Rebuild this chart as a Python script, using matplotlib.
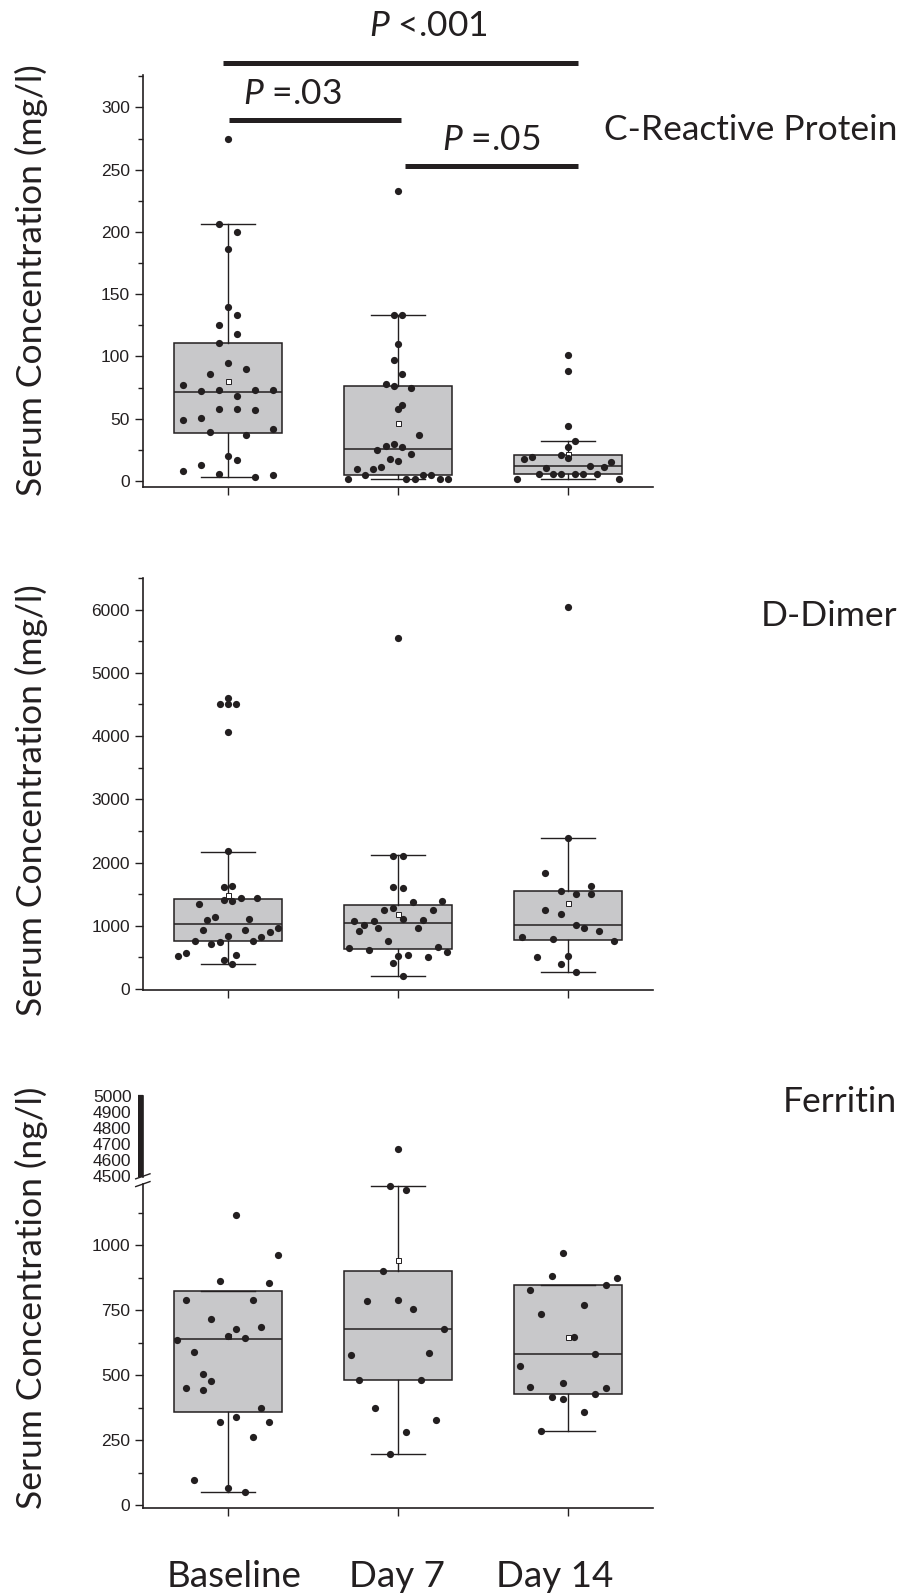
import matplotlib.pyplot as plt
import numpy as np
from matplotlib.ticker import MultipleLocator, FixedLocator, NullFormatter

plt.rcParams["mathtext.fontset"] = "custom"
plt.rcParams["mathtext.it"] = "Lato:italic"
plt.rcParams["mathtext.rm"] = "Lato"

# ---------------- data ----------------
groups = ["Baseline", "Day 7", "Day 14"]
titles = ["C-Reactive Protein", "D-Dimer", "Ferritin"]
ylabels = ["Serum Concentration (mg/l)", "Serum Concentration (mg/l)", "Serum Concentration (ng/l)"]

# C-reactive protein, mg/l
crp_base = [275, 206, 200, 186, 140, 133, 125, 118, 111, 95, 90, 86, 77, 72, 73, 73, 73, 68,
            58, 58, 57, 49, 51, 42, 39, 37, 20, 17, 13, 8, 6, 3, 5]
crp_base_off = [0, -0.055, 0.053, 0, 0, 0.053, -0.055, 0.053, -0.055, 0, 0.106, -0.108, -0.267,
                -0.161, -0.055, 0.159, 0.265, 0.053, -0.055, 0.053, 0.159, -0.267, -0.161, 0.265,
                -0.108, 0.106, 0, 0.053, -0.161, -0.267, -0.055, 0.159, 0.265]
crp_d7 = [233, 133, 133, 110, 97, 86, 78, 76, 75, 61, 58, 37, 30, 28, 27, 25, 22, 18, 16,
          10, 10, 11, 5, 2, 2, 2, 5, 5, 2, 2]
crp_d7_off = [0, -0.024, 0.025, 0, -0.024, 0.025, -0.073, -0.024, 0.075, 0.025, 0, 0.122,
              -0.024, -0.073, 0.025, -0.122, 0.075, -0.049, 0, -0.243, -0.147, -0.098, -0.196,
              -0.294, 0.049, 0.098, 0.147, 0.196, 0.245, 0.294]
crp_d14 = [101, 88, 44, 32, 27.5, 21, 18.5, 18, 19, 15, 11, 12, 10.4, 6, 6, 6, 6, 6, 6, 2, 2]
crp_d14_off = [0, 0, 0, 0.043, 0, -0.043, 0, -0.257, -0.214, 0.255, 0.214, 0.127, -0.127,
               -0.171, -0.086, -0.043, 0.043, 0.086, 0.171, -0.298, 0.298]
# q1, median, q3, lower whisker, upper whisker, mean
crp_q1 = [38.8, 4.8, 5.6]
crp_med = [71.7, 26, 12]
crp_q3 = [111, 76, 21.1]
crp_wlo = [3.2, 2, 1.9]
crp_whi = [206, 133, 32.4]
crp_mean = [80.5, 46.8, 22]

# D-dimer, mg/l
dd_base = [4607, 4501, 4501, 4501, 4058, 2185, 1610, 1625, 1414, 1398, 1435, 1435, 1340, 1098,
           1135, 1108, 934, 939, 908, 960, 834, 823, 755, 755, 718, 739, 522, 570, 459, 544, 390]
dd_base_off = [0, -0.048, 0, 0.048, 0, 0, -0.023, 0.025, -0.023, 0.025, 0.074, 0.17, -0.17,
               -0.124, -0.076, 0.122, -0.147, 0.099, 0.246, 0.294, 0, 0.195, -0.195, 0.147,
               -0.099, -0.048, -0.294, -0.246, -0.023, 0.048, 0.025]
dd_d7 = [5546, 2111, 2111, 1620, 1599, 1383, 1393, 1256, 1277, 1245, 1108, 1092, 1076, 1076,
         1013, 923, 966, 966, 760, 644, 665, 623, 586, 522, 538, 512, 406, 211]
dd_d7_off = [0, -0.029, 0.029, -0.029, 0.029, 0.086, 0.26, -0.084, -0.029, 0.204, 0.029, 0.145,
             -0.26, -0.143, -0.2, -0.231, -0.116, 0.116, -0.057, -0.288, 0.233, -0.172, 0.29,
             0, 0.059, 0.174, -0.029, 0.029]
dd_d14 = [6047, 2390, 1842, 1557, 1625, 1504, 1504, 1251, 1187, 1008, 960, 918, 823, 792, 765,
          501, 522, 396, 274]
dd_d14_off = [0, 0, -0.134, -0.044, 0.137, 0.046, 0.137, -0.134, -0.044, 0.046, 0.092, 0.183,
              -0.273, -0.09, 0.273, -0.183, 0, -0.044, 0.046]
dd_q1 = [755, 628, 770]
dd_med = [1029, 1050, 1008]
dd_q3 = [1430, 1330, 1557]
dd_wlo = [396, 211, 274]
dd_whi = [2174, 2116, 2390]
dd_mean = [1483, 1187, 1361]

# Ferritin, ng/l
fer_base = [1115, 962, 863, 853, 788, 788, 714, 685, 679, 651, 641, 635, 587, 503, 479, 450,
            442, 374, 340, 318, 318, 263, 97, 64, 51]
fer_base_off = [0.048, 0.294, -0.05, 0.244, -0.248, 0.146, -0.1, 0.194, 0.048, 0, 0.098, -0.298,
                -0.198, -0.15, -0.1, -0.248, -0.15, 0.194, 0.048, -0.05, 0.244, 0.146, -0.198,
                0, 0.098]
fer_d7 = [4670, 1227, 1210, 900, 783, 790, 754, 677, 577, 586, 482, 482, 373, 327, 279, 196]
fer_d7_off = [0, -0.046, 0.046, -0.091, -0.185, 0, 0.089, 0.272, -0.274, 0.181, -0.228, 0.135,
              -0.137, 0.226, 0.046, -0.046]
fer_d14 = [969, 882, 872, 829, 846, 735, 769, 645, 581, 536, 455, 468, 449, 428, 414, 409, 356, 285]
fer_d14_off = [-0.03, -0.094, 0.289, -0.222, 0.224, -0.159, 0.096, 0.033, 0.161, -0.285, -0.222,
               -0.03, 0.224, 0.161, -0.094, -0.03, 0.096, -0.159]
fer_q1 = [358, 482, 429]
fer_med = [638, 677, 582]
fer_q3 = [822, 900, 846]
fer_wlo = [51, 196, 285]
fer_whi = [822, 1227, 846]
fer_mean = [651, 942, 645]

# pairwise comparisons on CRP: (from group, to group, label)
p_pairs = [(0, 2), (0, 1), (1, 2)]
p_labels = ["$P$ <.001", "$P$ =.03", "$P$ =.05"]

# ---------------- style ----------------
g_ink = "#231f20"
g_box = "#c8c8ca"
g_text_font = "Lato"
g_tick_font = "Liberation Sans"
g_fs_text = 25.5
g_fs_tick = 12.5

W, H = 914.0, 1593.0


def rect(left, top, right, bottom):
    return [left / W, 1 - bottom / H, (right - left) / W, (bottom - top) / H]


def style_axis(ax, major, minor):
    for s in ["top", "right"]:
        ax.spines[s].set_visible(False)
    for s in ["left", "bottom"]:
        ax.spines[s].set_linewidth(1.2)
        ax.spines[s].set_color(g_ink)
    ax.set_xlim(0.5, 3.5)
    ax.set_xticks([1, 2, 3])
    ax.set_xticklabels([])
    ax.yaxis.set_major_locator(MultipleLocator(major))
    ax.yaxis.set_minor_locator(MultipleLocator(minor))
    ax.tick_params(axis="x", direction="out", length=5.5, width=1.0, color=g_ink)
    ax.tick_params(axis="y", which="major", direction="out", length=5.8, width=1.0, color=g_ink,
                   labelsize=g_fs_tick, labelcolor=g_ink, pad=3.5)
    ax.tick_params(axis="y", which="minor", direction="out", length=3.4, width=1.0, color=g_ink)
    for lab in ax.get_yticklabels():
        lab.set_fontfamily(g_tick_font)


def draw_boxes(ax, q1, med, q3, wlo, whi, mean):
    stats = []
    for i in range(3):
        stats.append(dict(q1=q1[i], med=med[i], q3=q3[i], whislo=wlo[i], whishi=whi[i],
                          mean=mean[i], fliers=[]))
    ax.bxp(stats, positions=[1, 2, 3], widths=0.64, capwidths=0.32, patch_artist=True,
           showmeans=True, manage_ticks=False,
           boxprops=dict(facecolor=g_box, edgecolor=g_ink, linewidth=1.1),
           whiskerprops=dict(color=g_ink, linewidth=1.0),
           capprops=dict(color=g_ink, linewidth=1.0),
           medianprops=dict(color=g_ink, linewidth=1.1),
           meanprops=dict(marker="s", markersize=3.6, markerfacecolor="white",
                          markeredgecolor=g_ink, markeredgewidth=0.7, zorder=3))


def draw_dots(ax, vals, offs, keep=None):
    for i in range(3):
        v = np.asarray(vals[i], dtype=float)
        x = i + 1 + np.asarray(offs[i], dtype=float)
        if keep is not None:
            m = keep(v)
            v, x = v[m], x[m]
        ax.plot(x, v, "o", markersize=5.2, color=g_ink, markeredgewidth=0, zorder=4, clip_on=False)


def main():
    fig = plt.figure(figsize=(W / 100, H / 100), dpi=100)

    # ---- C-reactive protein ----
    ax1 = fig.add_axes(rect(143, 75, 653, 487))
    style_axis(ax1, 50, 25)
    ax1.set_ylim(-4.8, 326)
    draw_boxes(ax1, crp_q1, crp_med, crp_q3, crp_wlo, crp_whi, crp_mean)
    draw_dots(ax1, [crp_base, crp_d7, crp_d14], [crp_base_off, crp_d7_off, crp_d14_off])

    # significance bars
    bar_y = [336, 289.6, 253]
    bar_ends = [(0.97, 3.06), (1.006, 2.02), (2.04, 3.06)]
    txt_pos = [(2.176, 365), (1.376, 310.7), (2.547, 273.7)]
    for k in range(len(p_pairs)):
        ax1.plot(bar_ends[k], [bar_y[k], bar_y[k]], color=g_ink, linewidth=3.6,
                 solid_capstyle="butt", clip_on=False)
        ax1.text(txt_pos[k][0], txt_pos[k][1], p_labels[k], ha="center", va="center",
                 fontsize=g_fs_text, color=g_ink, family=g_text_font)

    # ---- D-dimer ----
    ax2 = fig.add_axes(rect(143, 578, 653, 990))
    style_axis(ax2, 1000, 500)
    ax2.set_ylim(-16, 6500)
    draw_boxes(ax2, dd_q1, dd_med, dd_q3, dd_wlo, dd_whi, dd_mean)
    draw_dots(ax2, [dd_base, dd_d7, dd_d14], [dd_base_off, dd_d7_off, dd_d14_off])

    # ---- Ferritin (broken axis) ----
    ax3 = fig.add_axes(rect(143, 1184, 653, 1508))
    style_axis(ax3, 250, 125)
    ax3.set_ylim(-11.5, 1235)
    draw_boxes(ax3, fer_q1, fer_med, fer_q3, fer_wlo, fer_whi, fer_mean)
    fer_vals = [fer_base, fer_d7, fer_d14]
    fer_offs = [fer_base_off, fer_d7_off, fer_d14_off]
    draw_dots(ax3, fer_vals, fer_offs, keep=lambda v: v < 2000)

    ax3u = fig.add_axes(rect(143, 1096, 653, 1177))
    ax3u.set_xlim(0.5, 3.5)
    ax3u.set_ylim(4495, 5000)
    for s in ["top", "right", "bottom"]:
        ax3u.spines[s].set_visible(False)
    ax3u.spines["left"].set_linewidth(1.2)
    ax3u.spines["left"].set_color(g_ink)
    ax3u.set_xticks([])
    ax3u.yaxis.set_major_locator(FixedLocator([4500, 4600, 4700, 4800, 4900, 5000]))
    ax3u.yaxis.set_minor_locator(MultipleLocator(10))
    ax3u.yaxis.set_minor_formatter(NullFormatter())
    ax3u.tick_params(axis="y", which="both", direction="out", length=3.8, width=1.6, color=g_ink,
                     labelsize=g_fs_tick, labelcolor=g_ink, pad=4.5)
    for lab in ax3u.get_yticklabels():
        lab.set_fontfamily(g_tick_font)
    ax3u.patch.set_alpha(0)
    draw_dots(ax3u, fer_vals, fer_offs, keep=lambda v: v >= 2000)

    # break marks on the y axis
    for y0 in [0.992, 1.016]:
        ax3.plot([-0.0143, 0.0137], [y0, y0 + 0.0155], transform=ax3.transAxes, color=g_ink,
                 linewidth=1.0, clip_on=False)

    # ---- panel titles and y labels ----
    title_y = [130, 616, 1102]
    ylabel_y = [280, 800, 1298]
    for k in range(3):
        fig.text(897 / W, 1 - title_y[k] / H, titles[k], ha="right", va="center",
                 fontsize=g_fs_text, color=g_ink, family=g_text_font)
        fig.text(31 / W, 1 - ylabel_y[k] / H, ylabels[k], rotation=90, ha="center", va="center",
                 fontsize=g_fs_text, color=g_ink, family=g_text_font)

    # ---- group labels ----
    group_x = [234.5, 397, 555]
    for k in range(3):
        fig.text(group_x[k] / W, 1 - 1587 / H, groups[k], ha="center", va="baseline",
                 fontsize=g_fs_text + 1, color=g_ink, family=g_text_font)

    plt.savefig("out.png", dpi=100)


if __name__ == "__main__":
    main()
